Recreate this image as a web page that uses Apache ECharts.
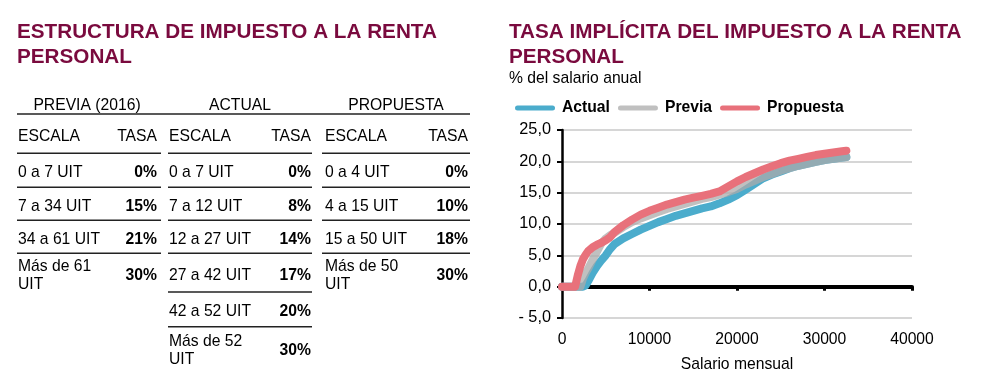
<!DOCTYPE html>
<html><head><meta charset="utf-8">
<script src="https://cdn.jsdelivr.net/npm/echarts@6/dist/echarts.min.js"></script>
<style>html,body{margin:0;padding:0;background:#fff}#c{width:981px;height:383px}</style>
</head><body><div id="c"></div>
<script>
// ---- Chart data ----
const salario   = [0, 1000, 1500, 1800, 2100, 2400, 2700, 3000, 3500, 4000, 4500, 5000, 5500, 6000, 7000, 8000, 9000, 10000, 11000, 12000, 13000, 14000, 15000, 16000, 17000, 18000, 19000, 20000, 21000, 22000, 23000, 24000, 25000, 26000, 27000, 28000, 29000, 30000, 31000, 32000, 32500];
const actual    = [0, 0, 0, 0, 0, 0, 0.2, 0.9, 2.2, 3.3, 4.2, 5.0, 6.0, 6.8, 7.7, 8.4, 9.1, 9.7, 10.3, 10.8, 11.3, 11.7, 12.1, 12.5, 12.8, 13.3, 13.9, 14.6, 15.5, 16.4, 17.3, 17.9, 18.4, 18.9, 19.3, 19.6, 19.9, 20.2, 20.4, 20.6, 20.7];
const previa    = [0, 0, 0, 0, 0, 1.3, 2.2, 2.9, 4.3, 5.6, 6.9, 7.7, 8.2, 8.6, 9.5, 10.3, 10.9, 11.4, 11.9, 12.4, 12.8, 13.2, 13.6, 14.0, 14.3, 14.7, 15.1, 15.6, 16.3, 16.9, 17.5, 18.0, 18.5, 18.9, 19.3, 19.6, 19.9, 20.2, 20.4, 20.6, 20.7];
const propuesta = [0, 0, 0, 1.8, 3.3, 4.4, 5.1, 5.7, 6.3, 6.7, 7.0, 7.4, 7.9, 8.7, 9.8, 10.7, 11.5, 12.1, 12.6, 13.1, 13.5, 13.9, 14.2, 14.5, 14.8, 15.2, 16.0, 16.8, 17.5, 18.1, 18.7, 19.2, 19.7, 20.1, 20.4, 20.7, 21.0, 21.2, 21.4, 21.6, 21.7];
const seriesNames = ['Actual', 'Previa', 'Propuesta'];

// ---- Table data ----
const titulos = ['ESTRUCTURA DE IMPUESTO A LA RENTA\nPERSONAL', 'TASA IMPLÍCITA DEL IMPUESTO A LA RENTA\nPERSONAL'];
const subtitulo = '% del salario anual';
const ejeX = 'Salario mensual';
const cabeceras = ['PREVIA (2016)', 'ACTUAL', 'PROPUESTA'];
const colEscala = 'ESCALA';
const colTasa = 'TASA';
const previaEscala    = ['0 a 7 UIT', '7 a 34 UIT', '34 a 61 UIT', 'Más de 61\nUIT'];
const previaTasa      = ['0%', '15%', '21%', '30%'];
const actualEscala    = ['0 a 7 UIT', '7 a 12 UIT', '12 a 27 UIT', '27 a 42 UIT', '42 a 52 UIT', 'Más de 52\nUIT'];
const actualTasa      = ['0%', '8%', '14%', '17%', '20%', '30%'];
const propuestaEscala = ['0 a 4 UIT', '4 a 15 UIT', '15 a 50 UIT', 'Más de 50\nUIT'];
const propuestaTasa   = ['0%', '10%', '18%', '30%'];

// ---- Layout / style ----
const F = '"Liberation Sans", Arial, Helvetica, sans-serif';
const MAROON = '#7A0A3E';
const FS = 15.7;
const colors = ['#4BACCC', 'rgba(171,171,171,0.75)', '#E8717B'];

const g = [];
function txt(x, y, text, o) {
  o = o || {};
  g.push({
    type: 'text', silent: true, x: x, y: y,
    style: {
      text: text, fill: o.fill || '#000',
      fontFamily: F, fontSize: o.size || FS, fontWeight: o.bold ? 'bold' : 'normal',
      lineHeight: o.lh || undefined,
      align: o.align || 'left', verticalAlign: o.va || 'middle',
      textAlign: o.align || 'left', textVerticalAlign: o.va || 'middle'
    }
  });
}
function hline(x1, x2, y, w) {
  g.push({ type: 'line', silent: true, shape: { x1: x1, y1: y, x2: x2, y2: y }, style: { stroke: '#222', lineWidth: w || 1.5 } });
}

// titles
txt(17, 45, titulos[0], { bold: true, size: 20.7, fill: MAROON, lh: 25 });
txt(509, 45, titulos[1], { bold: true, size: 20.7, fill: MAROON, lh: 25 });
txt(509, 79, subtitulo, { size: FS });

// table
const groups = [
  { x0: 17, x1: 161, tl: 18, tr: 157, esc: previaEscala, tas: previaTasa },
  { x0: 168, x1: 312, tl: 169, tr: 311, esc: actualEscala, tas: actualTasa },
  { x0: 322, x1: 470, tl: 325, tr: 468, esc: propuestaEscala, tas: propuestaTasa }
];
const rowLines = [153.3, 187.3, 220.3, 253.3, 292, 326.7, 368.7];
hline(17, 470, 114, 1.6);
groups.forEach(function (gr, gi) {
  txt((gr.x0 + gr.x1) / 2 + (gi === 0 ? -2 : 0), 105.5, cabeceras[gi], { align: 'center' });
  txt(gr.tl, 137, colEscala);
  txt(gr.tr, 137, colTasa, { align: 'right' });
  hline(gr.x0, gr.x1, rowLines[0]);
  gr.esc.forEach(function (e, i) {
    const yc = (rowLines[i] + rowLines[i + 1]) / 2 + 2.8;
    txt(gr.tl, yc, e, { lh: 18.3 });
    txt(gr.tr, yc, gr.tas[i], { align: 'right', bold: true });
    if (i < gr.esc.length - 1) hline(gr.x0, gr.x1, rowLines[i + 1]);
  });
});

const series = [actual, previa, propuesta].map(function (vals, k) {
  return {
    name: seriesNames[k], type: 'line', xAxisIndex: 0, yAxisIndex: 0,
    showSymbol: false, symbol: 'none', silent: true, animation: false,
    data: salario.map(function (x, i) { return [x, vals[i]]; }),
    lineStyle: { color: colors[k], width: 8, cap: 'round', join: 'round' },
    itemStyle: { color: colors[k] },
    z: 3 + k
  };
});

const chart = echarts.init(document.getElementById('c'), null, { renderer: 'canvas' });
chart.setOption({
  animation: false,
  backgroundColor: '#fff',
  textStyle: { fontFamily: F },
  graphic: g,
  legend: {
    left: 510, top: 95, itemWidth: 48, itemHeight: 5, itemGap: 8,
    icon: 'path://M3,0 H45 A3,3 0 0 1 45,6 H3 A3,3 0 0 1 3,0 Z',
    data: seriesNames,
    textStyle: { fontFamily: F, fontSize: FS, fontWeight: 'bold', color: '#000', padding: [0, 0, 0, -2] }
  },
  grid: { left: 562, top: 130, width: 350, height: 188, containLabel: false },
  xAxis: [
    {
      type: 'value', min: 0, max: 40000, interval: 10000, position: 'bottom',
      axisLine: { show: false, onZero: false }, axisTick: { show: false }, splitLine: { show: false },
      axisLabel: { fontFamily: F, fontSize: FS, color: '#000', margin: 14, formatter: function (v) { return String(v); } },
      name: ejeX, nameLocation: 'middle', nameGap: 39,
      nameTextStyle: { fontFamily: F, fontSize: FS, color: '#000' }
    },
    {
      type: 'value', min: 0, max: 40000, interval: 10000, position: 'bottom',
      axisLine: { show: true, onZero: true, lineStyle: { color: '#000', width: 4 } },
      axisTick: { show: true, inside: false, length: 4, lineStyle: { color: '#000', width: 3 } },
      axisLabel: { show: false }, splitLine: { show: false }
    }
  ],
  yAxis: {
    type: 'value', min: -5, max: 25, interval: 5,
    axisLine: { show: true, onZero: false, lineStyle: { color: '#000', width: 2.5 } },
    axisTick: { show: true, length: 5, lineStyle: { color: '#000', width: 2 } },
    splitLine: { show: true, lineStyle: { color: '#C8C8C8', width: 1.5 } },
    axisLabel: {
      fontFamily: F, fontSize: 16.3, color: '#000', margin: 11,
      formatter: function (v) { return (v < 0 ? '- ' + Math.abs(v).toFixed(1) : v.toFixed(1)).replace('.', ','); }
    }
  },
  series: series
});
</script>
</body></html>
